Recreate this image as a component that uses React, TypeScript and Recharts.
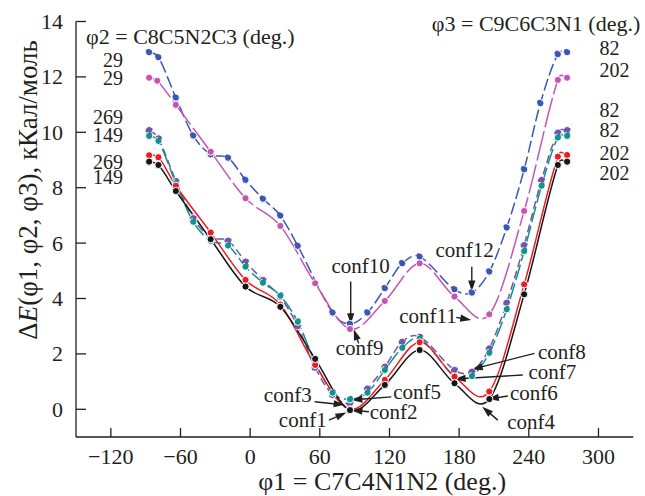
import React from 'react';
import { LineChart, Line, XAxis, YAxis, ReferenceLine, ReferenceDot } from 'recharts';

const FONT = "'Liberation Serif', Tinos, 'DejaVu Serif', 'Noto Serif', serif";
const INK = '#231f20';

const xTicks = [-120, -60, 0, 60, 120, 180, 240, 300];
const yTicks = [0, 2, 4, 6, 8, 10, 12, 14];

const bluePts: [number, number][] = [
  [-87, 12.89], [-79, 12.71], [-64, 11.25], [-49, 9.88], [-34, 9.2], [-19, 9.08], [-4, 8.28], [11, 7.6],
  [26, 6.99], [41, 5.9], [71, 3.49], [86, 3.08], [101, 3.49], [116, 4.37], [131, 5.27], [146, 5.51],
  [176, 4.33], [191, 4.21], [206, 4.97], [221, 6.56], [236, 8.66], [250, 11.05], [265, 12.82], [273, 12.89],
];
const magentaPts: [number, number][] = [
  [-87, 11.97], [-80, 11.86], [-64, 10.99], [-34, 9.3], [-4, 7.62], [26, 6.62], [56, 4.55], [86, 2.9],
  [116, 3.91], [146, 5.27], [176, 4.07], [206, 3.43], [236, 7.16], [265, 11.89], [273, 11.97],
];
const purplePts: [number, number][] = [
  [-87, 10.08], [-79, 9.78], [-64, 8.24], [-49, 6.9], [-34, 6.2], [-19, 6.09], [-4, 5.33], [11, 4.67],
  [26, 4.05], [41, 3.0], [56, 1.5], [71, 0.52], [86, 0.22], [101, 0.75], [116, 1.54], [131, 2.44],
  [146, 2.62], [176, 1.42], [191, 1.36], [206, 2.2], [221, 3.85], [236, 5.93], [251, 8.28], [265, 9.99], [273, 10.08],
];
const tealPts: [number, number][] = [
  [-87, 9.87], [-79, 9.69], [-64, 8.16], [-49, 6.77], [-34, 6.08], [-19, 5.91], [-4, 5.15], [11, 4.57],
  [26, 4.1], [41, 3.16], [56, 1.7], [71, 0.6], [86, 0.36], [101, 0.6], [116, 1.42], [131, 2.22],
  [146, 2.55], [176, 1.2], [191, 1.2], [206, 2.04], [221, 3.61], [236, 5.71], [251, 8.07], [265, 9.81], [273, 9.87],
];
const redPts: [number, number][] = [
  [-87, 9.17], [-79, 9.1], [-64, 8.07], [-34, 6.38], [-4, 4.67], [26, 3.78], [56, 1.6], [86, 0.0],
  [116, 1.06], [146, 2.42], [176, 1.18], [206, 0.64], [236, 4.51], [265, 9.12], [273, 9.18],
];
const blackPts: [number, number][] = [
  [-87, 8.94], [-79, 8.82], [-64, 7.88], [-34, 6.14], [-4, 4.43], [26, 3.7], [56, 1.82], [86, -0.03],
  [116, 0.88], [146, 2.14], [176, 0.94], [206, 0.37], [236, 4.15], [265, 8.82], [273, 8.94],
];

const series = [
  { name: 'blue', pts: bluePts, color: '#3b56b5', dash: '12 4' },
  { name: 'magenta', pts: magentaPts, color: '#c455b4', dash: '30 4' },
  { name: 'purple', pts: purplePts, color: '#7153b0', dash: '8 4' },
  { name: 'teal', pts: tealPts, color: '#13918c', dash: '16 4' },
  { name: 'red', pts: redPts, color: '#ec1c24', dash: undefined },
  { name: 'black', pts: blackPts, color: '#161616', dash: undefined },
];

const leftLabels = [
  { text: '29', y: 12.61 }, { text: '29', y: 11.96 }, { text: '269', y: 10.55 },
  { text: '149', y: 9.9 }, { text: '269', y: 8.93 }, { text: '149', y: 8.39 },
];
const leftLabelX = -109.5;
const rightLabels = [
  { text: '82', y: 13.04 }, { text: '202', y: 12.25 }, { text: '82', y: 10.81 },
  { text: '82', y: 10.08 }, { text: '202', y: 9.25 }, { text: '202', y: 8.53 },
];
const rightLabelX = 300.8;

const annotations = [
  { text: 'conf10', tx: 95.2, ty: 4.91, x1: 86.6, y1: 4.61, x2: 86.6, y2: 3.07 },
  { text: 'conf9', tx: 94.3, ty: 1.96, x1: 93.5, y1: 2.38, x2: 89.2, y2: 2.89 },
  { text: 'conf12', tx: 184.7, ty: 5.49, x1: 190.9, y1: 5.15, x2: 190.9, y2: 4.25 },
  { text: 'conf11', tx: 153.1, ty: 3.13, x1: 177.5, y1: 3.32, x2: 190.4, y2: 3.22 },
  { text: 'conf3', tx: 32.4, ty: 0.26, x1: 55.6, y1: 0.27, x2: 81.4, y2: 0.16 },
  { text: 'conf5', tx: 143.8, ty: 0.36, x1: 121.6, y1: 0.45, x2: 87.2, y2: 0.34 },
  { text: 'conf2', tx: 123.6, ty: -0.36, x1: 102.3, y1: -0.09, x2: 87.2, y2: -0.03 },
  { text: 'conf1', tx: 45.3, ty: -0.65, x1: 67.9, y1: -0.39, x2: 82.9, y2: -0.12 },
  { text: 'conf8', tx: 268.5, ty: 1.81, x1: 244.9, y1: 2.02, x2: 190.9, y2: 1.44 },
  { text: 'conf7', tx: 260.3, ty: 1.08, x1: 234.8, y1: 1.24, x2: 176.1, y2: 1.09 },
  { text: 'conf6', tx: 244.4, ty: 0.34, x1: 221.9, y1: 0.48, x2: 204.7, y2: 0.37 },
  { text: 'conf4', tx: 242, ty: -0.72, x1: 213.3, y1: -0.39, x2: 199.9, y2: 0.09 },
];

const toData = (pts: [number, number][]) => pts.map(([x, y]) => ({ x, y }));
const fmt = (v: number) => (v < 0 ? '\u2212' + Math.abs(v) : String(v));

// smooth interpolating curve (finite-difference cubic Hermite), passes through every point
function smoothCurve(context: any) {
  let pts: [number, number][] = [];
  return {
    areaStart() {},
    areaEnd() {},
    lineStart() {
      pts = [];
    },
    point(x: number, y: number) {
      pts.push([+x, +y]);
    },
    lineEnd() {
      const n = pts.length;
      if (!n) return;
      context.moveTo(pts[0][0], pts[0][1]);
      if (n === 1) return;
      const m: number[] = [];
      for (let i = 0; i < n; i++) {
        const a = pts[Math.max(0, i - 1)];
        const b = pts[Math.min(n - 1, i + 1)];
        m.push((b[1] - a[1]) / (b[0] - a[0] || 1));
      }
      for (let i = 0; i < n - 1; i++) {
        const [x0, y0] = pts[i];
        const [x1, y1] = pts[i + 1];
        const h = (x1 - x0) / 3;
        context.bezierCurveTo(x0 + h, y0 + m[i] * h, x1 - h, y1 - m[i + 1] * h, x1, y1);
      }
    },
  };
}

const XTick = (p: any) => (
  <g>
    <line x1={p.x} y1={p.y} x2={p.x} y2={p.y - 9} stroke={INK} strokeWidth={1.3} />
    <text x={p.x} y={p.y + 27} textAnchor="middle" fontSize={22} style={{ fontFamily: FONT }} fill={INK}>
      {fmt(p.payload.value)}
    </text>
  </g>
);
const YTick = (p: any) => (
  <g>
    <line x1={p.x} y1={p.y} x2={p.x + 10} y2={p.y} stroke={INK} strokeWidth={1.3} />
    <text x={p.x - 13} y={p.y + 7.5} textAnchor="end" fontSize={22} style={{ fontFamily: FONT }} fill={INK}>
      {fmt(p.payload.value)}
    </text>
  </g>
);

const Arrow = (p: any) => {
  const { x1, y1, x2, y2 } = p;
  const dx = x2 - x1;
  const dy = y2 - y1;
  const len = Math.hypot(dx, dy) || 1;
  const ux = dx / len;
  const uy = dy / len;
  const hl = 11;
  const hw = 3.6;
  const bx = x2 - ux * hl;
  const by = y2 - uy * hl;
  return (
    <g>
      <line x1={x1} y1={y1} x2={bx + ux * 2} y2={by + uy * 2} stroke={INK} strokeWidth={1.4} />
      <polygon points={`${x2},${y2} ${bx - uy * hw},${by + ux * hw} ${bx + uy * hw},${by - ux * hw}`} fill={INK} />
    </g>
  );
};

const textShape = (text: any, anchor: string, size: number) => (p: any) => (
  <text x={p.cx} y={p.cy} textAnchor={anchor as any} fontSize={size} style={{ fontFamily: FONT }} fill={INK}>
    {text}
  </text>
);

const centeredLabel = (text: string, anchor: string) => (p: any) => (
  <text x={p.cx} y={p.cy} dy={7} textAnchor={anchor as any} fontSize={20} style={{ fontFamily: FONT }} fill={INK}>
    {text}
  </text>
);

const YTitle = (p: any) => (
  <text
    x={p.cx}
    y={p.cy}
    transform={`rotate(-90 ${p.cx} ${p.cy})`}
    textAnchor="middle"
    dy={9}
    fontSize={27}
    style={{ fontFamily: FONT }}
    fill={INK}
  >
    {'\u0394'}
    <tspan fontStyle="italic">E</tspan>
    {'(\u03C61, \u03C62, \u03C63), \u043A\u041A\u0430\u043B/\u043C\u043E\u043B\u044C'}
  </text>
);

export default function App() {
  return (
    <div style={{ position: 'absolute', left: 0, top: 0, width: 645, height: 496, background: '#fff', fontFamily: FONT }}>
      <LineChart width={645} height={496} margin={{ top: 21.5, right: 11.7, bottom: 29, left: 0 }}>
        <XAxis
          dataKey="x"
          type="number"
          domain={[-150, 330]}
          ticks={xTicks}
          interval={0}
          allowDataOverflow
          height={30}
          tickSize={0}
          tickMargin={0}
          tickLine={false}
          tick={XTick}
          axisLine={{ stroke: INK, strokeWidth: 1.3 }}
        />
        <YAxis
          type="number"
          domain={[-1, 14]}
          ticks={yTicks}
          interval={0}
          allowDataOverflow
          width={76}
          tickSize={0}
          tickMargin={0}
          tickLine={false}
          tick={YTick}
          axisLine={{ stroke: INK, strokeWidth: 1.3 }}
        />
        {series.map((s) => (
          <Line
            key={s.name}
            data={toData(s.pts)}
            dataKey="y"
            type={smoothCurve as any}
            stroke={s.color}
            strokeWidth={1.5}
            strokeDasharray={s.dash}
            dot={{ r: 3.6, fill: s.color, stroke: '#fff', strokeWidth: 1 }}
            activeDot={false}
            isAnimationActive={false}
          />
        ))}
        {annotations.map((a, i) => (
          <ReferenceLine
            key={'arr' + i}
            segment={[{ x: a.x1, y: a.y1 }, { x: a.x2, y: a.y2 }]}
            shape={Arrow}
            ifOverflow="visible"
          />
        ))}
        {annotations.map((a, i) => (
          <ReferenceDot key={'ann' + i} x={a.tx} y={a.ty} r={0} ifOverflow="visible" shape={textShape(a.text, 'middle', 21)} />
        ))}
        {leftLabels.map((l, i) => (
          <ReferenceDot key={'ll' + i} x={leftLabelX} y={l.y} r={0} ifOverflow="visible" shape={centeredLabel(l.text, 'end')} />
        ))}
        {rightLabels.map((l, i) => (
          <ReferenceDot key={'rl' + i} x={rightLabelX} y={l.y} r={0} ifOverflow="visible" shape={centeredLabel(l.text, 'start')} />
        ))}
        <ReferenceDot x={-141.3} y={13.19} r={0} ifOverflow="visible" shape={textShape('\u03C62 = C8C5N2C3 (deg.)', 'start', 22)} />
        <ReferenceDot x={336} y={13.66} r={0} ifOverflow="visible" shape={textShape('\u03C63 = C9C6C3N1 (deg.)', 'end', 22)} />
        <ReferenceDot x={113.7} y={-2.92} r={0} ifOverflow="visible" shape={textShape('\u03C61 = C7C4N1N2 (deg.)', 'middle', 26)} />
        <ReferenceDot x={-191} y={7.92} r={0} ifOverflow="visible" shape={YTitle} />
      </LineChart>
    </div>
  );
}
